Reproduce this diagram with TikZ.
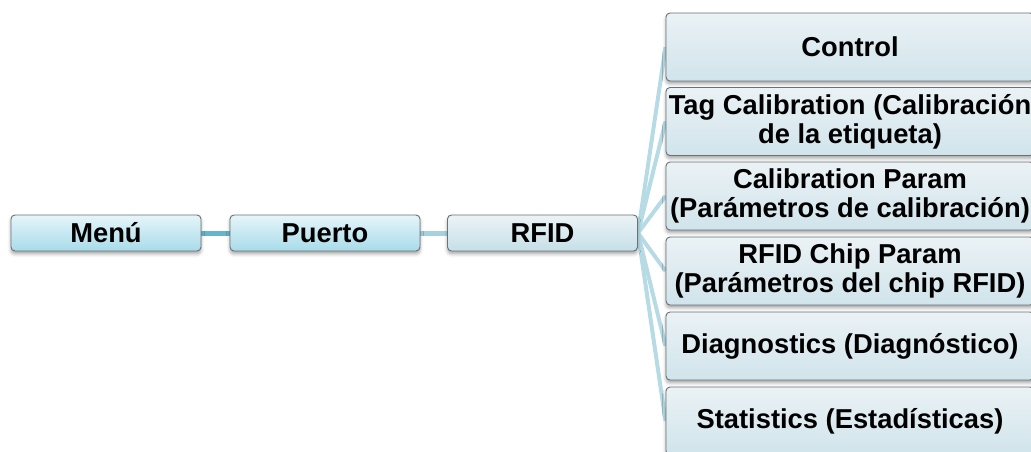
\documentclass[tikz,border=0pt]{standalone}
\usepackage{fontspec}
\setmainfont{Liberation Sans}
\usetikzlibrary{shadows.blur,backgrounds}
\definecolor{boxline}{HTML}{6A7275}
\definecolor{mtop}{HTML}{E6F5FA}
\definecolor{mbot}{HTML}{A8DBE9}
\definecolor{rtop}{HTML}{ECF3F6}
\definecolor{rbot}{HTML}{C6DFE8}
\definecolor{ctop}{HTML}{EBF2F5}
\definecolor{cbot}{HTML}{D0E4EB}
\definecolor{linkA}{HTML}{6AB4CB}
\definecolor{linkB}{HTML}{A6D2E0}
\definecolor{linkC}{HTML}{B6DBE5}
\tikzset{
  basebox/.style={draw=boxline, line width=0.7pt, rounded corners=3pt,
    blur shadow={shadow xshift=0pt, shadow yshift=-2.2pt, shadow blur radius=2.5pt, shadow opacity=35},
    font=\fontsize{20.5}{21.5}\selectfont\bfseries, align=center, inner sep=0pt, text=black},
  mainbox/.style={basebox, top color=mtop, bottom color=mbot, minimum width=142.5pt, minimum height=27pt},
  rfidbox/.style={basebox, top color=rtop, bottom color=rbot, minimum width=142.5pt, minimum height=27pt},
  childbox/.style={basebox, top color=ctop, bottom color=cbot, minimum width=276pt, minimum height=51pt},
  linkdark/.style={draw=linkA, line width=3.75pt},
  linkmid/.style={draw=linkB, line width=3.75pt},
  linkchild/.style={draw=linkC, line width=3pt},
}
\begin{document}
\begin{tikzpicture}[x=0.75pt,y=-0.75pt]
\useasboundingbox (0,0) rectangle (1031,451);
\clip (0,0) rectangle (1031,451);
\node[mainbox] (menu) at (106,233) {Menú};
\node[mainbox] (puerto) at (325,233) {Puerto};
\node[rfidbox] (rfid) at (542.5,233) {RFID};
\node[childbox] (c1) at (850,47) {Control};
\node[childbox] (c2) at (850,121.5) {Tag Calibration (Calibración\\de la etiqueta)};
\node[childbox] (c3) at (850,196) {Calibration Param\\(Parámetros de calibración)};
\node[childbox] (c4) at (850,271) {RFID Chip Param\\(Parámetros del chip RFID)};
\node[childbox] (c5) at (850,346) {Diagnostics (Diagnóstico)};
\node[childbox] (c6) at (850,421) {Statistics (Estadísticas)};
\begin{scope}[on background layer]
\draw[linkdark] (menu.east) -- (puerto.west);
\draw[linkmid] (puerto.east) -- (rfid.west);
\foreach \c in {c1,c2,c3,c4,c5,c6}
  \draw[linkchild] (rfid.east) -- (\c.west);
\end{scope}
\end{tikzpicture}
\end{document}
